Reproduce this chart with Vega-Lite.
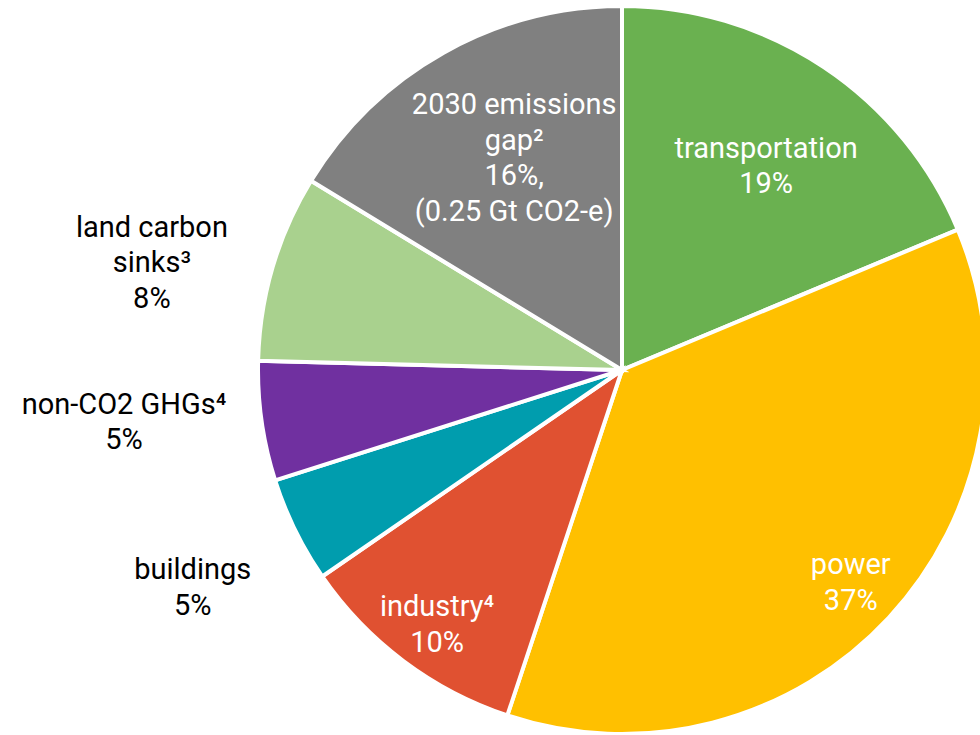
{
  "$schema": "https://vega.github.io/schema/vega-lite/v6.json",
  "width": 1244,
  "height": 740,
  "padding": 0,
  "autosize": {"type": "none"},
  "background": "white",
  "config": {"view": {"stroke": null}, "font": "Roboto"},
  "data": {"values": [
    {"i": 1, "sector": "transportation", "share": 18.7, "label": "transportation\n19%"},
    {"i": 2, "sector": "power", "share": 36.4, "label": "power\n37%"},
    {"i": 3, "sector": "industry", "share": 10.3, "label": "industry⁴\n10%"},
    {"i": 4, "sector": "buildings", "share": 4.7, "label": "buildings\n5%"},
    {"i": 5, "sector": "non-CO2 GHGs", "share": 5.3, "label": "non-CO2 GHGs⁴\n5%"},
    {"i": 6, "sector": "land carbon sinks", "share": 8.3, "label": "land carbon\nsinks³\n8%"},
    {"i": 7, "sector": "2030 emissions gap", "share": 16.3, "label": "2030 emissions\ngap²\n16%,\n(0.25 Gt CO2-e)"}
  ]},
  "encoding": {
    "theta": {"field": "share", "type": "quantitative", "stack": true},
    "order": {"field": "i", "type": "quantitative"}
  },
  "layer": [
    {
      "mark": {"type": "arc", "outerRadius": 364, "stroke": "white", "strokeWidth": 4},
      "encoding": {
        "color": {
          "field": "sector", "type": "nominal", "legend": null,
          "scale": {
            "domain": ["transportation", "power", "industry", "buildings", "non-CO2 GHGs", "land carbon sinks", "2030 emissions gap"],
            "range": ["#6ab150", "#ffc000", "#e05131", "#009dae", "#7030a0", "#a9d18e", "#808080"]
          }
        }
      }
    },
    {
      "mark": {"type": "text", "radius": 260, "dy": -5, "fontSize": 29, "lineHeight": 35.5, "lineBreak": "\n", "align": "center", "baseline": "middle"},
      "encoding": {
        "detail": {"field": "sector"},
        "color": {"value": "white"},
        "text": {"condition": {"test": "datum.i == 1", "field": "label"}, "value": ""}
      }
    },
    {
      "mark": {"type": "text", "radius": 312, "dy": -17, "fontSize": 29, "lineHeight": 35.5, "lineBreak": "\n", "align": "center", "baseline": "middle"},
      "encoding": {
        "detail": {"field": "sector"},
        "color": {"value": "white"},
        "text": {"condition": {"test": "datum.i == 2", "field": "label"}, "value": ""}
      }
    },
    {
      "mark": {"type": "text", "radius": 308, "dy": -9, "fontSize": 29, "lineHeight": 35.5, "lineBreak": "\n", "align": "center", "baseline": "middle"},
      "encoding": {
        "detail": {"field": "sector"},
        "color": {"value": "white"},
        "text": {"condition": {"test": "datum.i == 3", "field": "label"}, "value": ""}
      }
    },
    {
      "mark": {"type": "text", "radius": 220, "dy": -73, "fontSize": 29, "lineHeight": 35.5, "lineBreak": "\n", "align": "center", "baseline": "middle"},
      "encoding": {
        "detail": {"field": "sector"},
        "color": {"value": "white"},
        "text": {"condition": {"test": "datum.i == 7", "field": "label"}, "value": ""}
      }
    },
    {
      "mark": {"type": "text", "radius": 478, "dy": -10, "fontSize": 29, "lineHeight": 35.5, "lineBreak": "\n", "align": "center", "baseline": "middle"},
      "encoding": {
        "detail": {"field": "sector"},
        "color": {"value": "black"},
        "text": {"condition": {"test": "datum.i == 4", "field": "label"}, "value": ""}
      }
    },
    {
      "mark": {"type": "text", "radius": 503, "dy": -36, "fontSize": 29, "lineHeight": 35.5, "lineBreak": "\n", "align": "center", "baseline": "middle"},
      "encoding": {
        "detail": {"field": "sector"},
        "color": {"value": "black"},
        "text": {"condition": {"test": "datum.i == 5", "field": "label"}, "value": ""}
      }
    },
    {
      "mark": {"type": "text", "radius": 490, "dy": -4, "fontSize": 29, "lineHeight": 35.5, "lineBreak": "\n", "align": "center", "baseline": "middle"},
      "encoding": {
        "detail": {"field": "sector"},
        "color": {"value": "black"},
        "text": {"condition": {"test": "datum.i == 6", "field": "label"}, "value": ""}
      }
    }
  ]
}
